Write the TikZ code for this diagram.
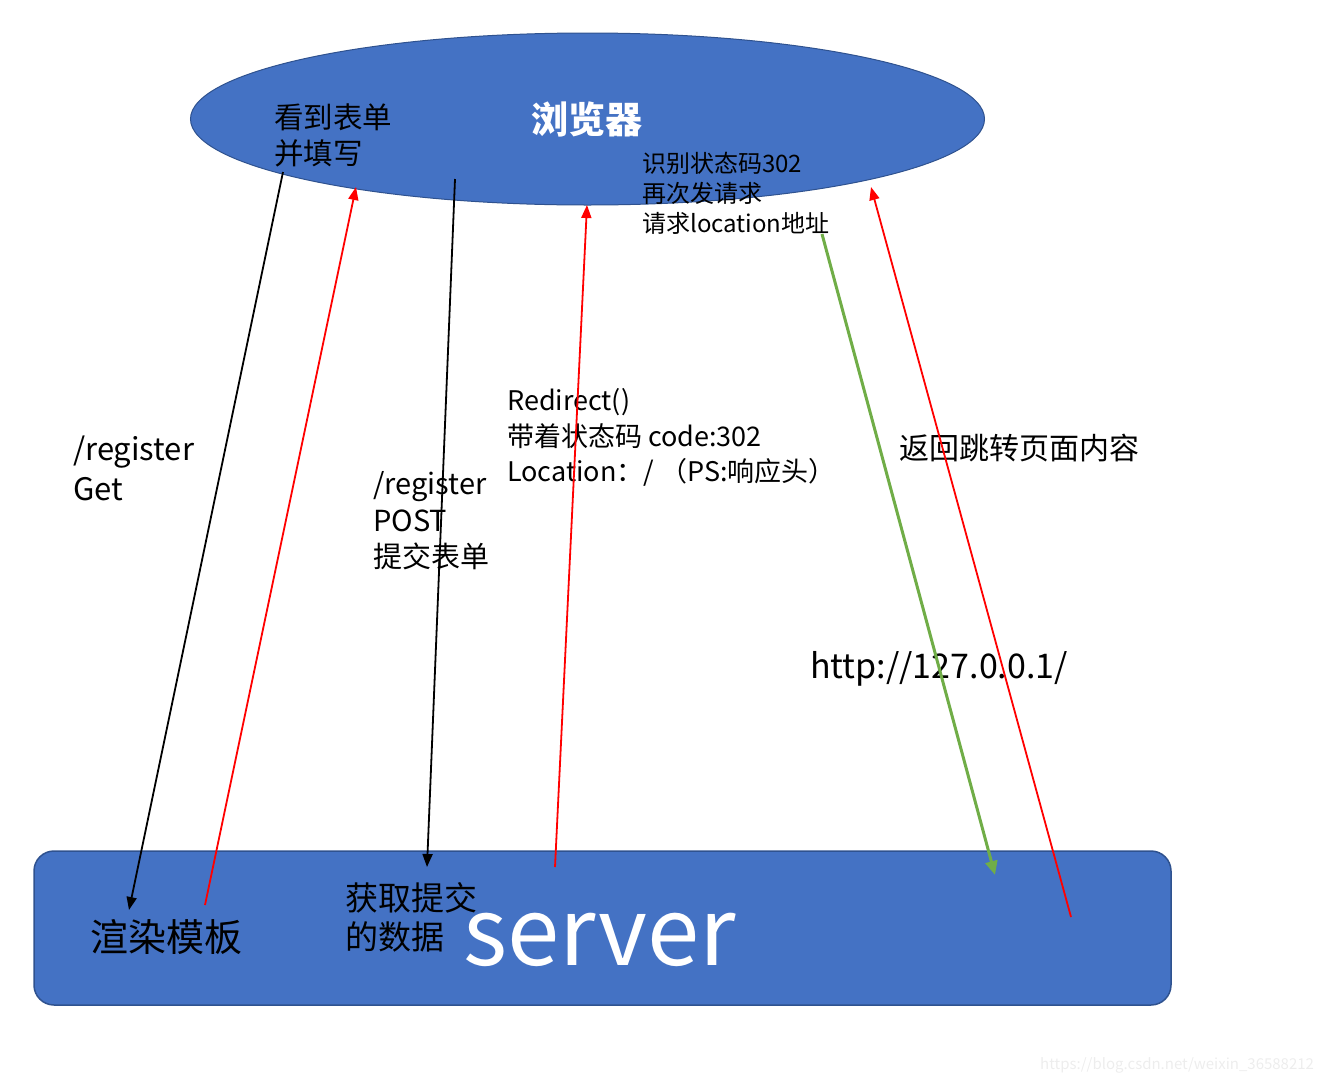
\documentclass[tikz,border=0pt]{standalone}
\usepackage{fontspec}
\setmainfont{Noto Sans CJK SC}
\usetikzlibrary{arrows.meta,shapes.geometric}
\definecolor{obox}{HTML}{4472C4}
\definecolor{oedge}{HTML}{2F528F}
\definecolor{ogreen}{HTML}{70AD47}
\definecolor{ored}{HTML}{FF0000}
\begin{document}
\begin{tikzpicture}[x=1pt,y=-1pt,
  lbl/.style={anchor=base west,inner sep=0pt,text=black},
  blk/.style={draw=black,line width=1.8pt,-{Triangle[length=13pt,width=10pt]}},
  redl/.style={draw=ored,line width=1.8pt,-{Triangle[length=13pt,width=10pt]}},
  grn/.style={draw=ogreen,line width=3pt,-{Triangle[length=14pt,width=12pt]}}]
\useasboundingbox (0,0) rectangle (1322,1082);
% shapes
\node[ellipse,draw=oedge,line width=1pt,fill=obox,minimum width=794pt,minimum height=172pt,inner sep=0pt] (browser) at (587.5,119) {};
\node[draw=oedge,line width=1.5pt,fill=obox,rounded corners=20pt,minimum width=1137pt,minimum height=154pt,inner sep=0pt] (server) at (602.5,928) {};
% texts in browser
\node[lbl,font=\fontsize{37}{37}\selectfont\bfseries,text=white,anchor=base] (bt) at (587,133) {浏览器};
\node[lbl,font=\fontsize{29.5}{29.5}\selectfont] (see1) at (274,128) {看到表单};
\node[lbl,font=\fontsize{29.5}{29.5}\selectfont] (see2) at (274,164) {并填写};
\node[lbl,font=\fontsize{24}{24}\selectfont] (rc1) at (642,172) {识别状态码302};
\node[lbl,font=\fontsize{24}{24}\selectfont] (rc2) at (642,202) {再次发请求};
\node[lbl,font=\fontsize{24}{24}\selectfont] (rc3) at (642,232) {请求location地址};
% middle labels
\node[lbl,font=\fontsize{31}{31}\selectfont] (g1) at (73,460) {/register};
\node[lbl,font=\fontsize{31}{31}\selectfont] (g2) at (73,500) {Get};
\node[lbl,font=\fontsize{29}{29}\selectfont] (p1) at (373,494) {/register};
\node[lbl,font=\fontsize{29}{29}\selectfont] (p2) at (373,531) {POST};
\node[lbl,font=\fontsize{29}{29}\selectfont] (p3) at (373,567) {提交表单};
\node[lbl,font=\fontsize{27}{27}\selectfont] (r1) at (507,410) {Redirect()};
\node[lbl,font=\fontsize{27}{27}\selectfont] (r2) at (507,446) {带着状态码 code:302};
\node[lbl,font=\fontsize{27}{27}\selectfont] (r3) at (507,481) {Location：/ （PS:响应头）};
\node[lbl,font=\fontsize{30}{30}\selectfont] (ret) at (899,459) {返回跳转页面内容};
\node[lbl,font=\fontsize{34}{34}\selectfont] (url) at (810,678) {http://127.0.0.1/};
% server texts
\node[lbl,font=\fontsize{38}{38}\selectfont] (render) at (90,951) {渲染模板};
\node[lbl,font=\fontsize{33}{33}\selectfont] (get1) at (345,910) {获取提交};
\node[lbl,font=\fontsize{33}{33}\selectfont] (get2) at (345,949) {的数据};
\node[lbl,font=\fontsize{94}{94}\selectfont,text=white] (st) at (463,965) {server};
% watermark
\node[lbl,font=\fontsize{15}{15}\selectfont,text=black!7] (wm) at (1040,1069) {https://blog.csdn.net/weixin\_36588212};
% connector end points
\coordinate (a1s) at (283,172); \coordinate (a1e) at (129,910);
\coordinate (a2s) at (205,905); \coordinate (a2e) at (356,187);
\coordinate (a3s) at (455,179); \coordinate (a3e) at (427,867);
\coordinate (a4s) at (555,867); \coordinate (a4e) at (587,205);
\coordinate (a5s) at (822,234); \coordinate (a5e) at (995,875);
\coordinate (a6s) at (1071,917); \coordinate (a6e) at (871,187);
\draw[blk] (a1s) -- (a1e);
\draw[redl] (a2s) -- (a2e);
\draw[blk] (a3s) -- (a3e);
\draw[redl] (a4s) -- (a4e);
\draw[grn] (a5s) -- (a5e);
\draw[redl] (a6s) -- (a6e);
\end{tikzpicture}
\end{document}
